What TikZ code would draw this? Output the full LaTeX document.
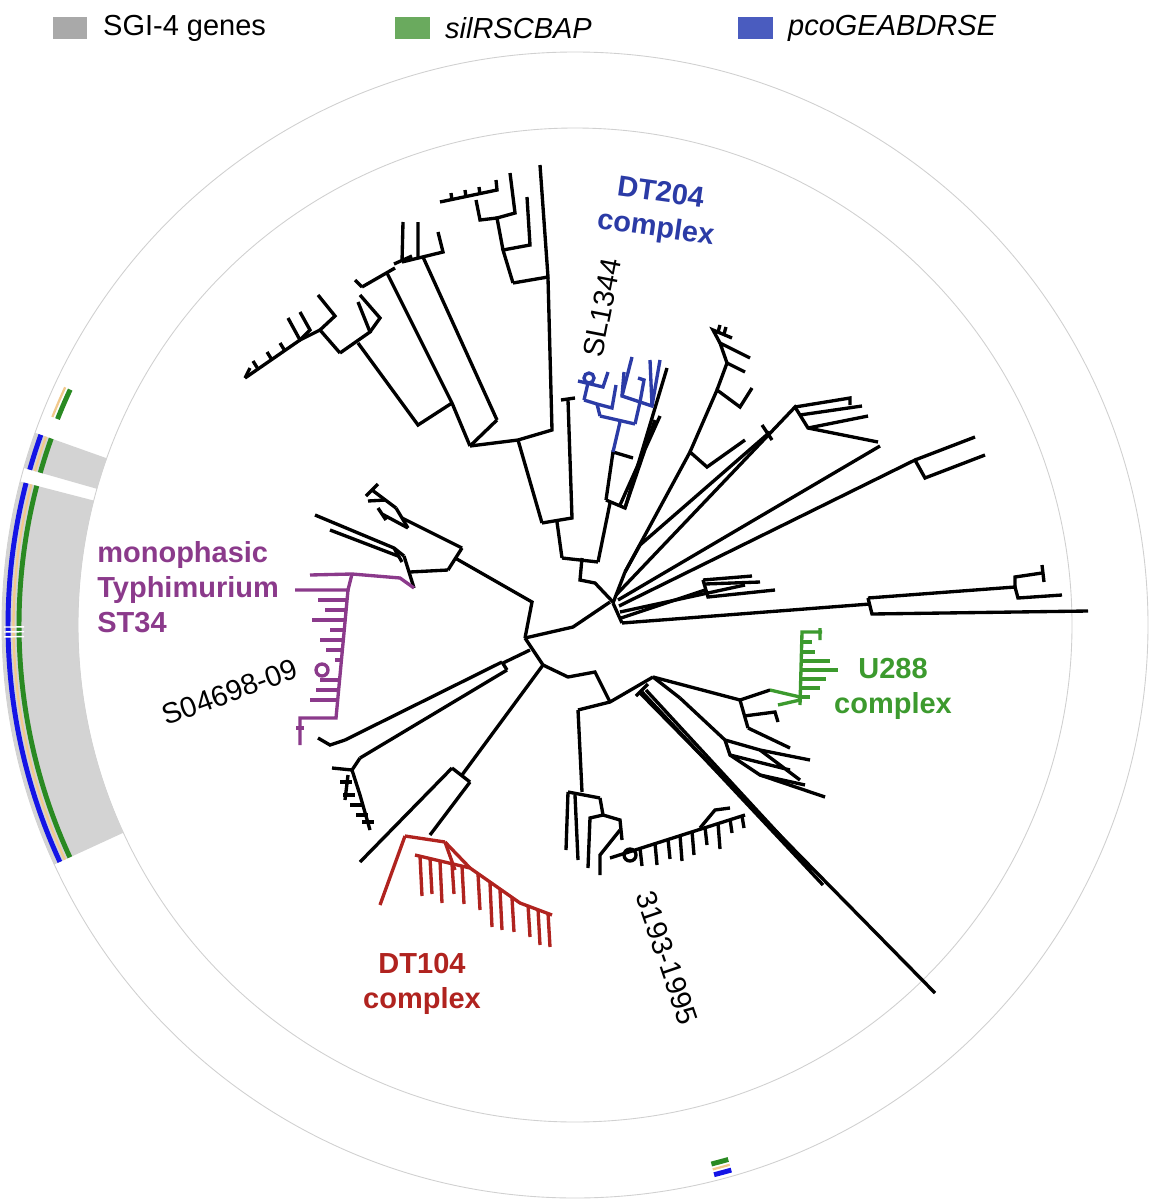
\documentclass[tikz,border=0pt]{standalone}
\usepackage{fontspec}
\setmainfont{Liberation Sans}
\usepackage{xcolor}
\usetikzlibrary{positioning}
\definecolor{ringgray}{HTML}{D3D3D3}
\definecolor{circgray}{HTML}{D0D0D0}
\definecolor{legendgray}{HTML}{A9A9A9}
\definecolor{legendgreen}{HTML}{6AAA5E}
\definecolor{legendblue}{HTML}{4A5CBF}
\definecolor{ringblue}{HTML}{1414E6}
\definecolor{ringgreen}{HTML}{2A8A22}
\definecolor{ringtan}{HTML}{F2C98C}
\definecolor{dtblue}{HTML}{2B3BA6}
\definecolor{stpurple}{HTML}{8B3A8B}
\definecolor{ugreen}{HTML}{3C9A2E}
\definecolor{dtred}{HTML}{B0231F}

\begin{document}
\begin{tikzpicture}[x=0.02cm, y=-0.02cm,
   br/.style={line width=1.9pt},
   lbl/.style={font=\fontsize{16.5}{20}\selectfont, align=center, inner sep=0pt},
   clade/.style={lbl, font=\fontsize{16.5}{20}\selectfont\bfseries},
   sq/.style={minimum width=0.7cm, minimum height=0.46cm, inner sep=0pt}]
   % frame
   \useasboundingbox (0,0) rectangle (1151,1200);
   \coordinate (C) at (575,625);

   % legend
   \node[sq, fill=legendgray] (sqgray) at (70,28) {};
   \node[lbl, right=0.3cm of sqgray] (txgray) {SGI-4 genes};
   \node[sq, fill=legendgreen] (sqgreen) at (412,28) {};
   \node[lbl, right=0.3cm of sqgreen] (txgreen) {\itshape silRSCBAP};
   \node[sq, fill=legendblue] (sqblue) at (755,28) {};
   \node[lbl, right=0.3cm of sqblue] (txblue) {\itshape pcoGEABDRSE};

   % rings
   \draw[circgray, line width=0.5pt] (C) circle (573);
   \draw[circgray, line width=0.5pt] (C) circle (497);
   \fill[ringgray] ([shift={(C)}] -165.5:497) arc[start angle=-165.5, end angle=-204.7, radius=497]
      -- ([shift={(C)}] -204.7:573) arc[start angle=-204.7, end angle=-165.5, radius=573] -- cycle;
   \fill[ringgray] ([shift={(C)}] -160.4:497) arc[start angle=-160.4, end angle=-164.1, radius=497]
      -- ([shift={(C)}] -164.1:573) arc[start angle=-164.1, end angle=-160.4, radius=573] -- cycle;
   \foreach \a/\b in {-160.4/-164.1, -165.5/-204.7, -284.2/-286}{%
      \draw[ringblue, line width=2.8pt] ([shift={(C)}] \a:567) arc[start angle=\a, end angle=\b, radius=567];
      \draw[ringtan, line width=1.3pt] ([shift={(C)}] \a:561.5) arc[start angle=\a, end angle=\b, radius=561.5];
      \draw[ringgreen, line width=2.8pt] ([shift={(C)}] \a:556) arc[start angle=\a, end angle=\b, radius=556];
   }
   \draw[ringtan, line width=1.3pt] ([shift={(C)}] -155:562.5) arc[start angle=-155, end angle=-158.3, radius=562.5];
   \draw[ringgreen, line width=2.8pt] ([shift={(C)}] -155:557) arc[start angle=-155, end angle=-158.3, radius=557];
   \foreach \a in {-180.2,-180.7,-181.2}
      \draw[white, line width=0.8pt] ([shift={(C)}] \a:551) -- ([shift={(C)}] \a:571);

   % backbone
   \draw[br] (525,638) -- (573,627) -- (610,602);
   \draw[br] (525,638) -- (532,602) -- (455,558);
   \draw[br] (525,638) -- (543,665);
   \draw[br] (530,650) -- (503,663);
   \draw[br] (543,665) -- (568,677) -- (595,672) -- (610,702);
   \draw[br] (613,603) -- (622,623);

   % top clade
   \draw[br] (613,602) -- (595,583) -- (580,580) -- (582,558);
   \draw[br] (562,558) -- (598,562);
   \draw[br] (562,558) -- (557,522);
   \draw[br] (542,523) -- (572,518) -- (568,400) (561,400) -- (575,398);
   \draw[br] (542,523) -- (518,440);
   \draw[br] (470,446) -- (518,440) -- (552,430) -- (548,278);
   \draw[br] (513,283) -- (548,277) -- (540,165);
   \draw[br] (513,283) -- (503,250) -- (530,245) -- (527,197);
   \draw[br] (503,250) -- (497,218) -- (515,213) -- (510,173);
   \draw[br] (497,218) -- (480,220) -- (476,200);
   \draw[br] (440,202) -- (497,190) -- (496,180);
   \foreach \x/\y in {452/200,466/197,480/194}
      \draw[br] (\x,\y) -- (\x-1,\y-7);
   \draw[br] (497,420) -- (423,257);
   \draw[br] (470,446) -- (497,420);
   \draw[br] (402,262) -- (443,252) -- (438,232);
   \draw[br] (402,262) -- (403,222) (418,258) -- (418,222) (394,264) -- (412,256);
   \draw[br] (470,446) -- (452,403) -- (387,273);
   \draw[br] (362,287) -- (395,268) (362,287) -- (355,280);
   \draw[br] (452,403) -- (418,425) -- (358,343);
   \draw[br] (340,353) -- (370,332) -- (358,302);
   \draw[br] (370,332) -- (380,318) -- (360,295);
   \draw[br] (340,353) -- (320,330) -- (335,316) -- (318,295);
   \draw[br] (320,330) -- (300,340) -- (288,318);
   \draw[br] (300,340) -- (245,378);
   \foreach \x/\y in {258/369,272/360,285/351}
      \draw[br] (\x,\y) -- (\x-5,\y-8);
   \draw[br] (245,378) -- (250,368) (300,340) -- (310,330) -- (300,312);

   % DT204 clade
   \draw[br] (598,562) -- (610,503);
   \draw[br] (606,500) -- (625,508) -- (667,368);
   \draw[br] (625,508) -- (655,420) (620,505) -- (660,416);
   \draw[br] (606,500) -- (613,452) -- (633,458);
   \draw[br, dtblue] (613,452) -- (620,422);
   \draw[br, dtblue] (600,416) -- (635,424);
   \draw[br, dtblue] (600,416) -- (597,404) -- (584,400) (597,404) -- (612,408) -- (616,385);
   \draw[br, dtblue] (584,400) -- (588,383);
   \draw[br, dtblue] (578,381) -- (603,387) -- (608,372);
   \draw[br, dtblue] (589,378) circle (5);
   \draw[br, dtblue] (635,424) -- (640,402) -- (622,396) -- (624,372);
   \draw[br, dtblue] (640,402) -- (652,406) -- (660,360);
   \draw[br, dtblue] (622,396) -- (632,357) (652,406) -- (650,360) (640,402) -- (644,380) -- (638,378);

   % upper right clades
   \draw[br] (625,572) -- (690,452) -- (707,467) -- (745,440);
   \draw[br] (690,452) -- (717,390) -- (740,407) -- (752,388);
   \draw[br] (717,390) -- (727,363) -- (745,372);
   \draw[br] (727,363) -- (720,343) -- (750,358);
   \draw[br] (720,343) -- (713,330) -- (732,338);
   \foreach \x/\y in {718/332,724/334}
      \draw[br] (\x,\y) -- (\x+2,\y-7);
   \draw[br] (613,603) -- (625,572);
   \draw[br] (625,572) -- (640,545);
   \draw[br] (640,545) -- (770,432) (762,425) -- (772,440);
   \draw[br] (616,595) -- (795,407) -- (808,428) -- (878,442);
   \draw[br] (795,407) -- (850,398) -- (850,405);
   \draw[br] (808,428) -- (868,416);
   \draw[br] (800,415) -- (862,406);
   \draw[br] (618,600) -- (880,446);
   \draw[br] (619,606) -- (915,460) -- (925,478) -- (985,455);
   \draw[br] (915,460) -- (975,437);

   % right clades
   \draw[br] (622,623) -- (870,604);
   \draw[br] (868,598) -- (872,614) -- (1088,611);
   \draw[br] (868,598) -- (1015,587) -- (1018,598) -- (1062,595);
   \draw[br] (1015,587) -- (1015,577) -- (1042,573);
   \draw[br] (1042,565) -- (1044,582);
   \draw[br] (621,618) -- (705,590);
   \draw[br] (703,580) -- (708,597) -- (775,590);
   \draw[br] (703,580) -- (752,576);
   \draw[br] (705,584) -- (760,582);
   \draw[br] (620,612) -- (745,585);

   % lower right clades
   \draw[br] (578,710) -- (610,702) -- (653,677);
   \draw[br] (640,693) -- (935,993);
   \draw[br] (642,692) -- (823,885);
   \draw[br] (646,690) -- (812,870);
   \draw[br] (636,696) -- (648,684);
   \draw[br] (653,677) -- (680,698);
   \draw[br] (653,677) -- (740,700) -- (748,728);
   \draw[br] (740,700) -- (770,690);
   \draw[br] (748,728) -- (790,748) (744,716) -- (775,712) -- (778,722);
   \draw[br] (680,698) -- (725,740) -- (760,750) -- (810,760);
   \draw[br] (725,740) -- (730,755) -- (790,770) (760,750) -- (800,780);
   \draw[br] (730,755) -- (760,775) -- (825,797);
   \draw[br] (760,775) -- (805,785);
   % U288 clade
   \draw[br, ugreen] (770,690) -- (800,697) (778,705) -- (800,700);
   \draw[br, ugreen] (800,705) -- (802,632) -- (822,632) (820,628) -- (820,640);
   \foreach \y/\l in {642/812,652/815,661/830,670/838,679/826,688/820,697/810}
      \draw[br, ugreen] (801,\y) -- (\l,\y);

   % 3193-1995 clade
   \draw[br] (578,710) -- (582,792);
   \draw[br] (568,792) -- (600,798);
   \draw[br] (568,792) -- (566,850) (575,795) -- (578,860);
   \draw[br] (600,798) -- (603,815) -- (590,818) -- (588,868);
   \draw[br] (603,815) -- (620,820) -- (622,840);
   \draw[br] (620,830) -- (600,855) -- (600,875);
   \draw[br] (630,855) circle (6);
   \draw[br] (610,858) -- (745,815);
   \foreach \x/\y/\h in {640/848/18,655/843/22,668/839/20,680/835/26,692/831/24,705/827/18,718/823/26,730/819/14,742/816/12}
      \draw[br] (\x,\y) -- (\x+2,\y+\h);
   \draw[br] (700,828) -- (715,810) -- (730,808);

   % DT104 clade
   \draw[br] (543,665) -- (462,775);
   \draw[br] (452,768) -- (470,782);
   \draw[br] (452,768) -- (360,862);
   \draw[br] (470,782) -- (430,835);
   \draw[br, dtred] (405,836) -- (445,842);
   \draw[br, dtred] (405,836) -- (380,905);
   \draw[br, dtred] (415,855) -- (470,868) -- (520,903) -- (552,915);
   \draw[br, dtred] (445,842) -- (470,868);
   \foreach \x/\y/\h in {420/856/40,430/858/36,440/861/42,452/864/30,462/866/38,478/874/36,490/883/44,500/890/40,512/898/34,528/905/32,538/909/36,548/913/34}
      \draw[br, dtred] (\x,\y) -- (\x+2,\y+\h);
   \draw[br, dtred] (445,842) -- (455,870);

   % lower left clade
   \draw[br] (502,662) -- (507,670);
   \draw[br] (502,662) -- (345,740);
   \draw[br] (507,670) -- (360,758);
   \draw[br] (345,740) -- (330,745) -- (318,738);
   \draw[br] (360,758) -- (352,770) -- (332,768);
   \draw[br] (352,770) -- (360,795) -- (370,830);
   \draw[br] (348,775) -- (345,800);
   \foreach \x/\y in {340/782,343/795,350/805,356/815,362/822}
      \draw[br] (\x,\y) -- (\x+12,\y);

   % upper left clade + ST34
   \draw[br] (462,548) -- (448,570);
   \draw[br] (462,548) -- (402,518);
   \draw[br] (396,508) -- (408,528);
   \draw[br] (396,508) -- (372,490) (366,496) -- (378,484);
   \draw[br] (386,500) -- (368,501);
   \draw[br] (408,528) -- (382,514) (378,508) -- (386,520);
   \draw[br] (448,570) -- (410,572);
   \draw[br] (404,556) -- (414,588);
   \draw[br] (404,556) -- (394,548) -- (315,515);
   \draw[br] (394,548) -- (402,562) (398,556) -- (330,530);
   \draw[br, stpurple] (414,588) -- (400,578) -- (352,574);
   \draw[br, stpurple] (352,574) -- (310,575) (352,574) -- (348,590) -- (295,590);
   \draw[br, stpurple] (348,590) -- (336,718) -- (300,718) -- (300,745);
   \foreach \y/\l in {600/318,610/325,620/312,630/330,640/320,650/326,660/335,680/320,690/316,700/310}
      \draw[br, stpurple] ({347-(\y-590)/12}, \y) -- (\l,\y);
   \draw[br, stpurple] (322,670) circle (6);
   \draw[br, stpurple] (296,728) -- (304,728);

   % labels
   \node[clade, dtblue, rotate=-8] (dt204) at (658,212) {DT204\\complex};
   \node[lbl, rotate=79] (sl1344) at (602,308) {SL1344};
   \node[clade, stpurple, align=left, anchor=west] (st34) at (97,587) {monophasic\\Typhimurium\\ST34};
   \node[lbl, rotate=20] (s04698) at (230,692) {S04698-09};
   \node[clade, ugreen] (u288) at (893,689) {U288\\complex};
   \node[clade, dtred] (dt104) at (422,984) {DT104\\complex};
   \node[lbl, rotate=-71] (s3193) at (667,958) {3193-1995};
\end{tikzpicture}
\end{document}
